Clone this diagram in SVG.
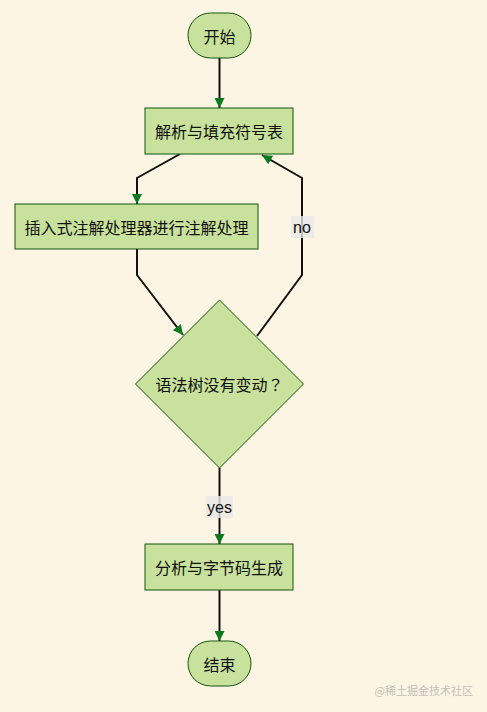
<svg xmlns="http://www.w3.org/2000/svg" width="487" height="712" viewBox="0 0 487 712">
<style>
.node{fill:#c8e19c;stroke:#13540c;stroke-width:1}
.lbl{font-family:"Noto Sans CJK SC","Liberation Sans",sans-serif;font-size:16px;fill:#111;text-anchor:middle;dominant-baseline:central}
.edge{fill:none;stroke:#111;stroke-width:2}
.elbl{font-family:"Liberation Sans","Noto Sans",sans-serif;font-size:16px;fill:#111;text-anchor:middle;dominant-baseline:central}
.ebg{fill:#e8e8e8;opacity:0.8}
</style>
<defs>
<marker id="arr" viewBox="0 0 10 10" refX="10" refY="5" markerWidth="10" markerHeight="10" markerUnits="userSpaceOnUse" orient="auto">
<path d="M0,0 L10,5 L0,10 z" fill="#0b7a1c"/>
</marker>
</defs>
<rect width="487" height="712" fill="#fdf5e4"/>
<g id="edges">
<path class="edge" d="M219.5,58 L219.5,108" marker-end="url(#arr)"/>
<path class="edge" d="M180,154 L137,178 L137,204" marker-end="url(#arr)"/>
<path class="edge" d="M137,249 L137,275 L183,335" marker-end="url(#arr)"/>
<path class="edge" d="M257,336 L302,275 L302,178 L262,155" marker-end="url(#arr)"/>
<path class="edge" d="M219.5,468 L219.5,544" marker-end="url(#arr)"/>
<path class="edge" d="M219.5,590 L219.5,641" marker-end="url(#arr)"/>
<rect class="ebg" x="291" y="216" width="23" height="22"/>
<text class="elbl" x="302" y="227">no</text>
<rect class="ebg" x="206" y="496" width="27" height="22"/>
<text class="elbl" x="219.5" y="507">yes</text>
</g>
<g id="start">
<rect class="node" x="188" y="13" width="63" height="45" rx="22.5" ry="22.5"/>
<text class="lbl" x="219.5" y="35.5">开始</text>
</g>
<g id="parse">
<rect class="node" x="145" y="108" width="148" height="46"/>
<text class="lbl" x="219" y="131">解析与填充符号表</text>
</g>
<g id="annot">
<rect class="node" x="15" y="204" width="243" height="45"/>
<text class="lbl" x="136.5" y="226.5">插入式注解处理器进行注解处理</text>
</g>
<g id="decision">
<polygon class="node" points="219.5,300 303.5,384 219.5,468 135.5,384"/>
<text class="lbl" x="219.5" y="384" style="font-family:'Noto Sans CJK TC','Noto Sans CJK SC',sans-serif">语法树没有变动？</text>
</g>
<g id="gen">
<rect class="node" x="145" y="544" width="148" height="46"/>
<text class="lbl" x="219" y="567">分析与字节码生成</text>
</g>
<g id="end">
<rect class="node" x="188" y="641" width="63" height="45" rx="22.5" ry="22.5"/>
<text class="lbl" x="219.5" y="663.5">结束</text>
</g>
<text x="473" y="690" font-family="Noto Sans CJK SC,sans-serif" font-size="11" fill="#c4c0b8" text-anchor="end" dominant-baseline="central">@稀土掘金技术社区</text>
</svg>
